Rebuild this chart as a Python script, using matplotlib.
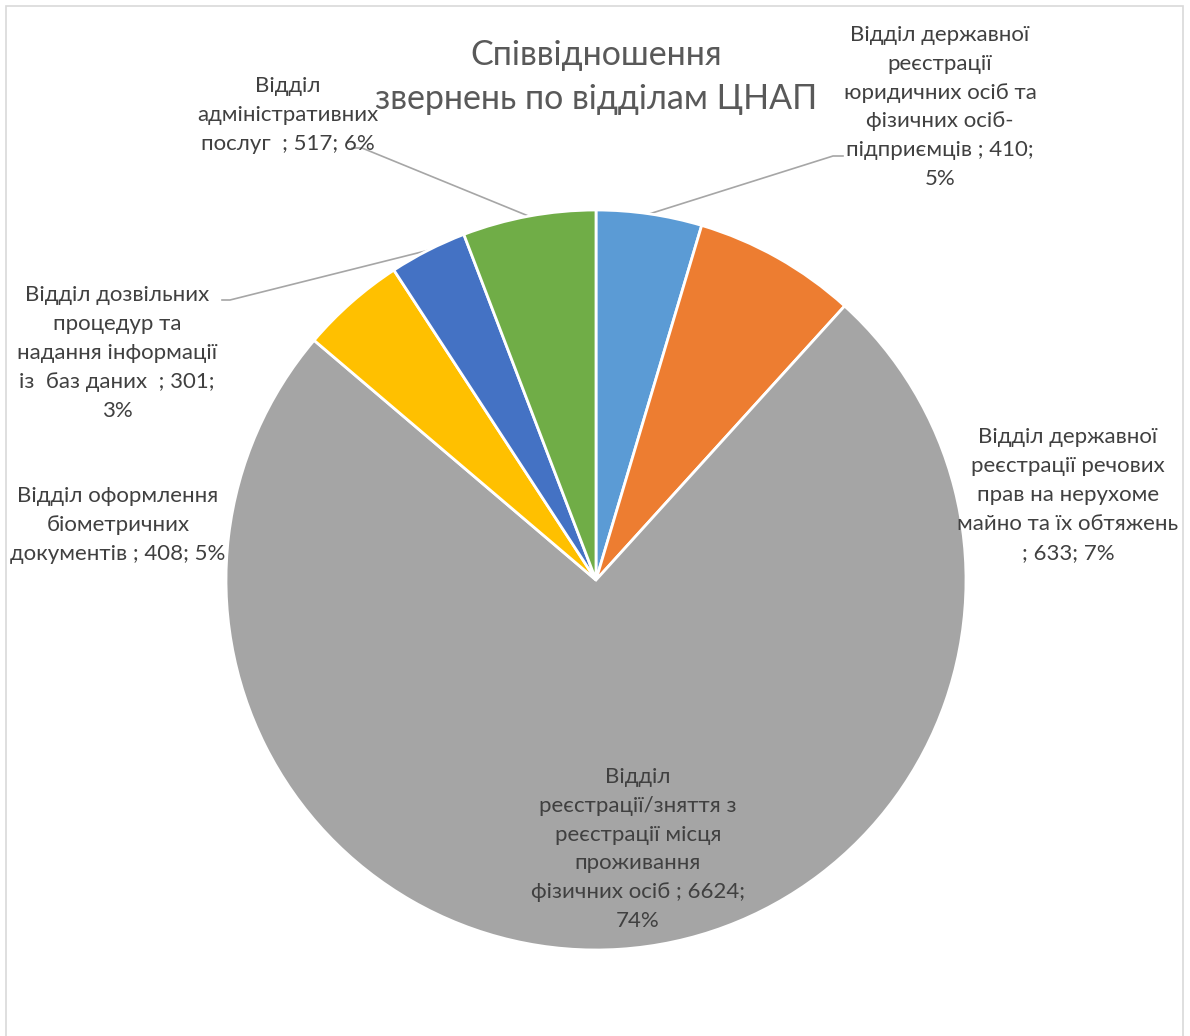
import numpy as np
import matplotlib
matplotlib.use("Agg")
import matplotlib.pyplot as plt
from matplotlib.patches import Rectangle

plt.rcParams['font.family'] = ['Lato', 'DejaVu Sans']

# data
departments = [
    "Відділ державної реєстрації юридичних осіб та фізичних осіб-підприємців",
    "Відділ державної реєстрації речових прав на нерухоме майно та їх обтяжень",
    "Відділ реєстрації/зняття з реєстрації місця проживання фізичних осіб",
    "Відділ оформлення біометричних документів",
    "Відділ дозвільних процедур та надання інформації із баз даних",
    "Відділ адміністративних послуг",
]
requests = [410, 633, 6624, 408, 301, 517]
colors = ["#5B9BD5", "#ED7D31", "#A5A5A5", "#FFC000", "#4472C4", "#70AD47"]

# label text as it is wrapped in the original chart
label_fmt = [
    "Відділ державної\nреєстрації\nюридичних осіб та\nфізичних осіб-\nпідприємців ; {v};\n{p}%",
    "Відділ державної\nреєстрації речових\nправ на нерухоме\nмайно та їх обтяжень\n; {v}; {p}%",
    "Відділ\nреєстрації/зняття з\nреєстрації місця\nпроживання\nфізичних осіб ; {v};\n{p}%",
    "Відділ оформлення\nбіометричних\nдокументів ; {v}; {p}%",
    "Відділ дозвільних\nпроцедур та\nнадання інформації\nіз  баз даних  ; {v};\n{p}%",
    "Відділ\nадміністративних\nпослуг  ; {v}; {p}%",
]

W, H = 1190, 1036
fig = plt.figure(figsize=(W / 100, H / 100), dpi=100)
ax = fig.add_axes([0, 0, 1, 1])

# chart border
ax.add_patch(Rectangle((6, -20), 1177, H - 6 + 20, fill=False,
                       edgecolor="#D9D9D9", linewidth=1.2))

cx, cy, r = 596, H - 580, 370
wedges, _ = ax.pie(requests, colors=colors, startangle=90, counterclock=False,
                   center=(cx, cy), radius=r, frame=True,
                   wedgeprops=dict(edgecolor="white", linewidth=2))
ax.set_xlim(0, W)
ax.set_ylim(0, H)
ax.axis("off")

total = sum(requests)
pcts = [int(round(v / total * 100)) for v in requests]

# label centers (pixels from top-left) and leader anchor points
label_pos = [(940, 107), (1068, 495), (638, 849), (118, 525), (117, 353), (288, 115)]
leader_anchor = {0: (833, 156, 843), 4: (230, 300, 222), 5: (362, 148, 352)}

for i, w in enumerate(wedges):
    txt = label_fmt[i].format(v=requests[i], p=pcts[i])
    lx, ly = label_pos[i]
    ax.text(lx, H - ly, txt, ha="center", va="center", multialignment="center",
            fontsize=16, color="#404040", linespacing=1.56)
    if i in leader_anchor:
        mid = np.deg2rad((w.theta1 + w.theta2) / 2)
        ex, ey = cx + r * np.cos(mid), cy + r * np.sin(mid)
        ax_, ay_, tx_ = leader_anchor[i]
        ax.plot([ex, ax_, tx_], [ey, H - ay_, H - ay_], color="#A6A6A6",
                linewidth=1.2, zorder=0.5)

ax.text(596, H - 77, "Співвідношення\nзвернень по відділам ЦНАП", ha="center",
        va="center", fontsize=24.5, color="#595959", linespacing=1.45)

fig.savefig("out.png", dpi=100)
